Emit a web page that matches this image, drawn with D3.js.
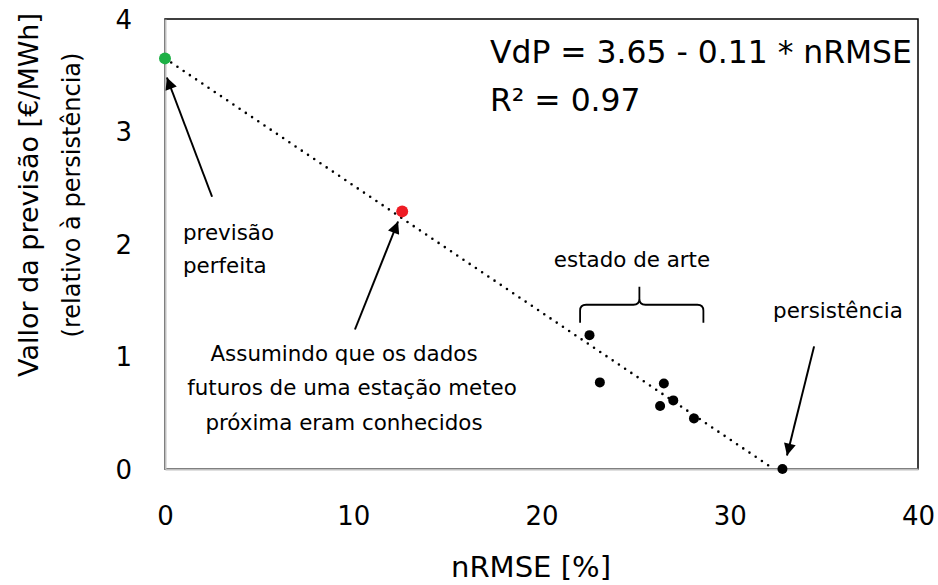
<!DOCTYPE html>
<html><head><meta charset="utf-8">
<script src="https://cdn.jsdelivr.net/npm/d3@7"></script>
<style>
html,body{margin:0;padding:0;background:#fff;}
text{font-family:"DejaVu Sans",sans-serif;fill:#000;}
</style></head>
<body><svg id="c" width="938" height="585"></svg>
<script>
// ---- data ----
const xTicks = [0, 10, 20, 30, 40];
const yTicks = [0, 1, 2, 3, 4];
const perfectX = [0], perfectY = [3.65];
const stationX = [12.6], stationY = [2.29];
const artX = [22.55, 23.1, 26.5, 26.3, 27.0, 28.1];
const artY = [1.19, 0.77, 0.76, 0.56, 0.61, 0.45];
const persistX = [32.8], persistY = [0];
const trendX = [0, 32.25], trendY = [3.65, 0.01];
const xTitle = "nRMSE [%]";
const yTitle = ["Vallor da previsão [€/MWh]", "(relativo à persistência)"];
const eqLines = ["VdP = 3.65 - 0.11 * nRMSE", "R² = 0.97"];

const svg = d3.select("#c");
const L = 165, R = 918, T = 19, B = 469;
const x = d3.scaleLinear().domain([0, 40]).range([L, R]);
const y = d3.scaleLinear().domain([0, 4]).range([B, T]);

function fit(sel, w, fs) {
  sel.attr("font-size", fs);
  const len = sel.node().getComputedTextLength();
  const f = fs * w / len;
  sel.attr("font-size", f);
  return f;
}

// plot border
svg.append("rect").attr("x", L).attr("y", T).attr("width", R - L).attr("height", B - T)
  .attr("fill", "none").attr("stroke", "#000").attr("stroke-width", 1.5);

// axes
const xa = svg.append("g").attr("transform", `translate(0,${B})`)
  .call(d3.axisBottom(x).tickValues(xTicks).tickSize(0).tickPadding(0).tickFormat(d3.format("d")));
xa.select(".domain").attr("stroke", "#bfbfbf").attr("stroke-width", 2);
xa.selectAll("text").attr("dy", null).attr("y", 56).attr("font-size", 26);
const ya = svg.append("g").attr("transform", `translate(${L},0)`)
  .call(d3.axisLeft(y).tickValues(yTicks).tickSize(0).tickPadding(0).tickFormat(d3.format("d")));
ya.select(".domain").attr("stroke", "#bfbfbf").attr("stroke-width", 2);
ya.selectAll("text").attr("x", -33).attr("dy", "0.36em").attr("font-size", 26);

// titles
fit(svg.append("text").attr("x", 531).attr("y", 577).attr("text-anchor", "middle").text(xTitle), 160, 26);
yTitle.forEach((t, i) => {
  fit(svg.append("text").attr("transform", `translate(${[38, 80][i]},195) rotate(-90)`)
    .attr("text-anchor", "middle").text(t), [364, 285][i], 26);
});

// trend line
svg.append("path").datum(d3.zip(trendX, trendY))
  .attr("d", d3.line().x(d => x(d[0])).y(d => y(d[1])))
  .attr("fill", "none").attr("stroke", "#000").attr("stroke-width", 2.6)
  .attr("stroke-linecap", "round").attr("stroke-dasharray", "0 7.5");

// points
function pts(xs, ys, color, r) {
  svg.append("g").selectAll("circle").data(d3.zip(xs, ys)).join("circle")
    .attr("cx", d => x(d[0])).attr("cy", d => y(d[1])).attr("r", r).attr("fill", color);
}
pts(artX, artY, "#000", 5);
pts(persistX, persistY, "#000", 5);
pts(stationX, stationY, "#ee1c24", 6);
pts(perfectX, perfectY, "#1db045", 6);

// arrows
svg.append("defs").append("marker").attr("id", "ah").attr("viewBox", "0 0 10 10")
  .attr("refX", 10).attr("refY", 5).attr("markerWidth", 16).attr("markerHeight", 12)
  .attr("markerUnits", "userSpaceOnUse").attr("orient", "auto")
  .append("path").attr("d", "M0,0L10,5L0,10Z").attr("fill", "#000");
const arrows = [
  [[2.50, 2.42], [0.1, 3.48]],
  [[10.09, 1.24], [12.38, 2.20]],
  [[34.48, 1.09], [33.04, 0.12]]
];
arrows.forEach(a => {
  svg.append("line").attr("x1", x(a[0][0])).attr("y1", y(a[0][1]))
    .attr("x2", x(a[1][0])).attr("y2", y(a[1][1]))
    .attr("stroke", "#000").attr("stroke-width", 2).attr("marker-end", "url(#ah)");
});

// brace
const bx0 = x(22.05), bx1 = x(28.6), bxm = x(25.2);
const by0 = y(1.30), by1 = y(1.46), byt = y(1.62);
svg.append("path").attr("d",
  `M${bx0},${by0} L${bx0},${by1 + 6} Q${bx0},${by1} ${bx0 + 6},${by1} L${bxm - 6},${by1} Q${bxm},${by1} ${bxm},${by1 - 6} L${bxm},${byt}
   M${bxm},${by1 - 6} Q${bxm},${by1} ${bxm + 6},${by1} L${bx1 - 6},${by1} Q${bx1},${by1} ${bx1},${by1 + 6} L${bx1},${by0}`)
  .attr("fill", "none").attr("stroke", "#000").attr("stroke-width", 1.8);

// equation
const eqF = fit(svg.append("text").attr("x", 490).attr("y", 63).text(eqLines[0]), 422, 28);
svg.append("text").attr("x", 490).attr("y", 111).attr("font-size", eqF).text(eqLines[1]);

// annotations (one common size)
const probe = svg.append("text").text("futuros de uma estação meteo");
const annF = fit(probe, 330, 19);
probe.remove();
const ann = [
  ["previsão", 183, 240, "start"],
  ["perfeita", 183, 273, "start"],
  ["estado de arte", 632, 267, "middle"],
  ["persistência", 838, 318, "middle"],
  ["Assumindo que os dados", 344, 361, "middle"],
  ["futuros de uma estação meteo", 352, 395, "middle"],
  ["próxima eram conhecidos", 344, 430, "middle"]
];
ann.forEach(a => {
  svg.append("text").attr("x", a[1]).attr("y", a[2]).attr("text-anchor", a[3])
    .attr("font-size", annF).text(a[0]);
});
</script></body></html>
